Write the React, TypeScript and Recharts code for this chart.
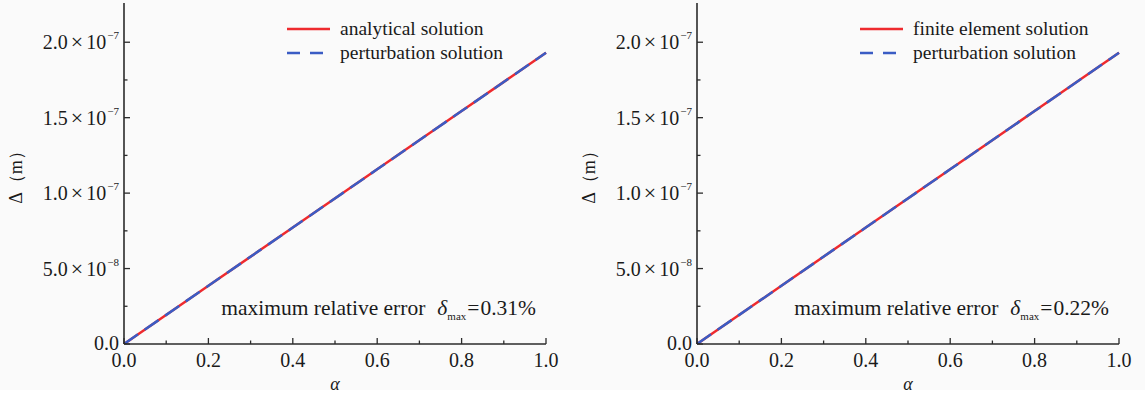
import React from 'react'
import { LineChart, Line, XAxis, YAxis, Customized } from 'recharts'

// alpha sample points and displacement values (m)
const alpha = [0, 0.2, 0.4, 0.6, 0.8, 1.0]
const analytical = [0, 3.86e-8, 7.72e-8, 1.158e-7, 1.544e-7, 1.93e-7]
const finiteElement = [0, 3.86e-8, 7.72e-8, 1.158e-7, 1.544e-7, 1.93e-7]
const perturbation = [0, 3.86e-8, 7.72e-8, 1.158e-7, 1.544e-7, 1.93e-7]

const xTicks = [0, 0.1, 0.2, 0.3, 0.4, 0.5, 0.6, 0.7, 0.8, 0.9, 1.0]
const yTicks = [0, 2.5e-8, 5e-8, 7.5e-8, 1e-7, 1.25e-7, 1.5e-7, 1.75e-7, 2e-7]
const yMax = 2.26e-7

const refNames = ['analytical solution', 'finite element solution']
const maxErrors = ['0.31%', '0.22%']

const FONT = 'Liberation Serif, serif'
const TXT = { fontFamily: FONT }
const RED = '#ee2a2e'
const BLUE = '#3a5cc4'
const AXIS = '#2b2b2b'
const INK = '#1a1a1a'
const BG = '#fafafa'

const W = 572
const H = 397
const PLOT_L = 124
const PLOT_R = 546
const PLOT_T = 3
const PLOT_B = 344

const isMajorX = (v: number) => Math.round(v * 10) % 2 === 0
const isMajorY = (v: number) => Math.round(v / 2.5e-8) % 2 === 0

function BottomTick({ x, y, payload }: any) {
  const v = payload.value as number
  const major = isMajorX(v)
  return (
    <g>
      <line x1={x} y1={y} x2={x} y2={y - (major ? 6 : 3.5)} stroke={AXIS} strokeWidth={1.3} />
      {major && (
        <text x={x} y={y + 23} textAnchor="middle" style={TXT} fontSize={20} fill={INK}>
          {v.toFixed(1)}
        </text>
      )}
    </g>
  )
}

function TopTick({ x, y, payload }: any) {
  const major = isMajorX(payload.value)
  return <line x1={x} y1={y} x2={x} y2={y + (major ? 6 : 3.5)} stroke={AXIS} strokeWidth={1.3} />
}

function LeftTick({ x, y, payload }: any) {
  const v = payload.value as number
  const major = isMajorY(v)
  let label: React.ReactNode = null
  if (major) {
    if (v === 0) {
      label = (
        <text x={x - 5} y={y + 6} textAnchor="end" style={TXT} fontSize={20} fill={INK}>
          0.0
        </text>
      )
    } else {
      const exp = Math.floor(Math.log10(v) + 1e-9)
      const mant = (v / Math.pow(10, exp)).toFixed(1)
      label = (
        <text x={x - 5} y={y + 7} textAnchor="end" style={TXT} fontSize={20} fill={INK}>
          <tspan>{mant}</tspan>
          <tspan dx={3} fontSize={22}>×</tspan>
          <tspan dx={3}>10</tspan>
          <tspan dx={1} dy={-10} fontSize={11}>{'\u2212' + Math.abs(exp)}</tspan>
        </text>
      )
    }
  }
  return (
    <g>
      <line x1={x} y1={y} x2={x + (major ? 6 : 3.5)} y2={y} stroke={AXIS} strokeWidth={1.3} />
      {label}
    </g>
  )
}

function RightTick({ x, y, payload }: any) {
  const major = isMajorY(payload.value)
  return <line x1={x} y1={y} x2={x - (major ? 6 : 3.5)} y2={y} stroke={AXIS} strokeWidth={1.3} />
}

function Decorations({ refName, err }: { refName: string; err: string }) {
  const lx = PLOT_L + 163
  const midY = 173
  return (
    <g style={TXT} fill={INK}>
      <line x1={lx} y1={29} x2={lx + 43} y2={29} stroke={RED} strokeWidth={2.5} />
      <line x1={lx} y1={53} x2={lx + 43} y2={53} stroke={BLUE} strokeWidth={2.5} strokeDasharray="13 10" />
      <text x={PLOT_L + 216} y={35} fontSize={19.5} style={TXT}>{refName}</text>
      <text x={PLOT_L + 216} y={59} fontSize={19.5} style={TXT}>perturbation solution</text>
      <text x={PLOT_R - 10} y={315} textAnchor="end" fontSize={21.5} style={TXT}>
        <tspan>maximum relative error</tspan>
        <tspan dx={12} fontStyle="italic">δ</tspan>
        <tspan fontSize={11} dy={5}>max</tspan>
        <tspan dx={1} dy={-5}>=</tspan>
        <tspan dx={1}>{err}</tspan>
      </text>
      <text
        x={22}
        y={midY}
        transform={`rotate(-90 22 ${midY})`}
        textAnchor="middle"
        fontSize={18}
        style={TXT}
      >
        Δ（m）
      </text>
      <text x={(PLOT_L + PLOT_R) / 2} y={390} textAnchor="middle" fontSize={18} fontStyle="italic" style={TXT}>
        α
      </text>
    </g>
  )
}

function Panel({ refName, refValues, err }: { refName: string; refValues: number[]; err: string }) {
  const data = alpha.map((a, i) => ({ a, ref: refValues[i], pert: perturbation[i] }))
  return (
    <LineChart
      width={W}
      height={H}
      data={data}
      margin={{ top: PLOT_T, right: W - PLOT_R, bottom: 0, left: 0 }}
    >
      <XAxis
        dataKey="a"
        type="number"
        domain={[0, 1]}
        ticks={xTicks}
        height={H - PLOT_B}
        tickSize={0}
        tickMargin={0}
        tickLine={false}
        tick={<BottomTick />}
        axisLine={{ stroke: AXIS, strokeWidth: 1.6 }}
        interval={0}
      />
      <XAxis
        xAxisId="top"
        orientation="top"
        dataKey="a"
        type="number"
        domain={[0, 1]}
        ticks={xTicks}
        height={0}
        tickSize={0}
        tickMargin={0}
        tickLine={false}
        tick={<TopTick />}
        axisLine={{ stroke: AXIS, strokeWidth: 1.6 }}
        interval={0}
      />
      <YAxis
        type="number"
        domain={[0, yMax]}
        ticks={yTicks}
        width={PLOT_L}
        tickSize={0}
        tickMargin={0}
        tickLine={false}
        tick={<LeftTick />}
        axisLine={{ stroke: AXIS, strokeWidth: 1.6 }}
        interval={0}
        allowDataOverflow
      />
      <YAxis
        yAxisId="right"
        orientation="right"
        type="number"
        domain={[0, yMax]}
        ticks={yTicks}
        width={0}
        tickSize={0}
        tickMargin={0}
        tickLine={false}
        tick={<RightTick />}
        axisLine={{ stroke: AXIS, strokeWidth: 1.6 }}
        interval={0}
        allowDataOverflow
      />
      <Line dataKey="ref" stroke={RED} strokeWidth={2.5} dot={false} isAnimationActive={false} />
      <Line
        dataKey="pert"
        stroke={BLUE}
        strokeWidth={2.5}
        strokeDasharray="17 8"
        dot={false}
        isAnimationActive={false}
      />
      <Customized component={<Decorations refName={refName} err={err} />} />
    </LineChart>
  )
}

export default function App() {
  return (
    <div style={{ position: 'absolute', left: 0, top: 0, width: 1145, height: H, background: '#fff' }}>
      <div style={{ position: 'absolute', left: 0, top: 0, width: 1145, height: 390, background: BG }} />
      <div style={{ position: 'absolute', left: 0, top: 0 }}>
        <Panel refName={refNames[0]} refValues={analytical} err={maxErrors[0]} />
      </div>
      <div style={{ position: 'absolute', left: 573, top: 0 }}>
        <Panel refName={refNames[1]} refValues={finiteElement} err={maxErrors[1]} />
      </div>
    </div>
  )
}
